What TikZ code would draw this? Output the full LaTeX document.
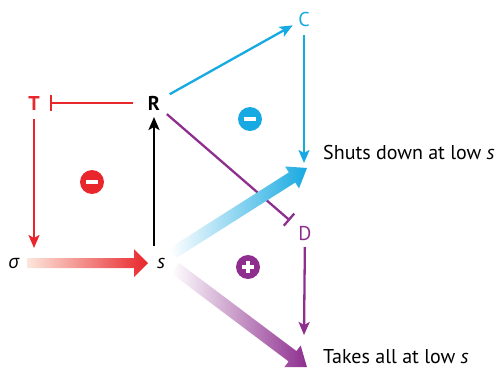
\documentclass[tikz,border=0pt]{standalone}
\usepackage{fontspec}
\setmainfont{PT Sans}
\newfontfamily\grk{Open Sans}
\usetikzlibrary{arrows.meta}
\definecolor{cred}{HTML}{E8262B}
\definecolor{cblue}{HTML}{17A9E1}
\definecolor{cpurple}{HTML}{8E2F8F}
\definecolor{cpeach}{HTML}{FCE6DC}
\begin{document}
\begin{tikzpicture}[x=1pt,y=-1pt,
  lbl/.style={inner sep=0pt, font=\fontsize{20}{24}\selectfont},
  thin/.style={line width=2.3pt},
  tip/.style={-{Stealth[length=13pt,width=11pt,inset=3pt]}},
  sign/.style={circle, minimum size=24pt, inner sep=0pt},
]
\useasboundingbox (0,0) rectangle (501,370);
% labels
\node[lbl, text=cred, font=\fontsize{20}{24}\selectfont\bfseries] (T) at (34,103) {T};
\node[lbl, font=\fontsize{20}{24}\selectfont\bfseries] (R) at (154,103) {R};
\node[lbl, text=cblue] (C) at (304,19) {C};
\node[lbl, text=cpurple] (D) at (305,233.5) {D};
\node[lbl, font=\fontsize{19}{24}\selectfont\grk\itshape] (sig) at (14,263) {σ};
\node[lbl, font=\fontsize{20}{24}\selectfont\itshape] (s) at (161,263) {s};
\node[lbl, anchor=west] (shut) at (323,152) {Shuts down at low \textit{s}};
\node[lbl, anchor=west] (take) at (323,357) {Takes all at low \textit{s}};
\coordinate (cend) at (304,163);
\coordinate (dend) at (304,335);
% sign circles
\node[sign, fill=cred] (m1) at (92,182) {};
\fill[white] ([xshift=-6pt,yshift=-1.7pt]m1.center) rectangle ([xshift=6pt,yshift=1.7pt]m1.center);
\node[sign, fill=cblue] (m2) at (250,119) {};
\fill[white] ([xshift=-6pt,yshift=-1.7pt]m2.center) rectangle ([xshift=6pt,yshift=1.7pt]m2.center);
\node[sign, fill=cpurple] (p1) at (248,267) {};
\fill[white] ([xshift=-6pt,yshift=-1.7pt]p1.center) rectangle ([xshift=6pt,yshift=1.7pt]p1.center);
\fill[white] ([xshift=-1.7pt,yshift=-6pt]p1.center) rectangle ([xshift=1.7pt,yshift=6pt]p1.center);
% thin connectors
\draw[thin, cred, -{Bar[width=16pt,line width=2.3pt]}, shorten <=21pt, shorten >=16pt] (R.center) -- (T.center);
\draw[thin, cred, tip, shorten <=16pt, shorten >=15pt] (T.center) -- (T |- sig);
\draw[thin, black, tip, shorten <=17pt, shorten >=14pt] (R |- s) -- (R.center);
\draw[thin, cblue, tip, shorten <=18pt, shorten >=13pt] (R.center) -- (C.center);
\draw[thin, cblue, tip, shorten <=16pt] (C.center) -- (cend);
\draw[thin, cpurple, -{Bar[width=16pt,line width=2.3pt]}, shorten <=17pt, shorten >=20pt] (R.center) -- (D.center);
\draw[thin, cpurple, tip, shorten <=13.5pt] (D.center) -- (dend);
% thick gradient arrows
\shade[left color=cpeach, right color=cred]
  (27,258) -- (134,258) -- (134,249) -- (148,263) -- (134,277) -- (134,268) -- (27,268) -- cycle;
\begin{scope}[shift={(173,253)}, rotate=32.4]
\shade[left color=white, right color=cblue]
  (0,-6) -- (141,-6) -- (141,-13) -- (158.7,0) -- (141,13) -- (141,6) -- (0,6) -- cycle;
\end{scope}
\begin{scope}[shift={(175,268)}, rotate=-36.9]
\shade[left color=white, right color=cpurple]
  (0,-6.5) -- (147,-6.5) -- (147,-13.5) -- (165,0) -- (147,13.5) -- (147,6.5) -- (0,6.5) -- cycle;
\end{scope}
\end{tikzpicture}
\end{document}
